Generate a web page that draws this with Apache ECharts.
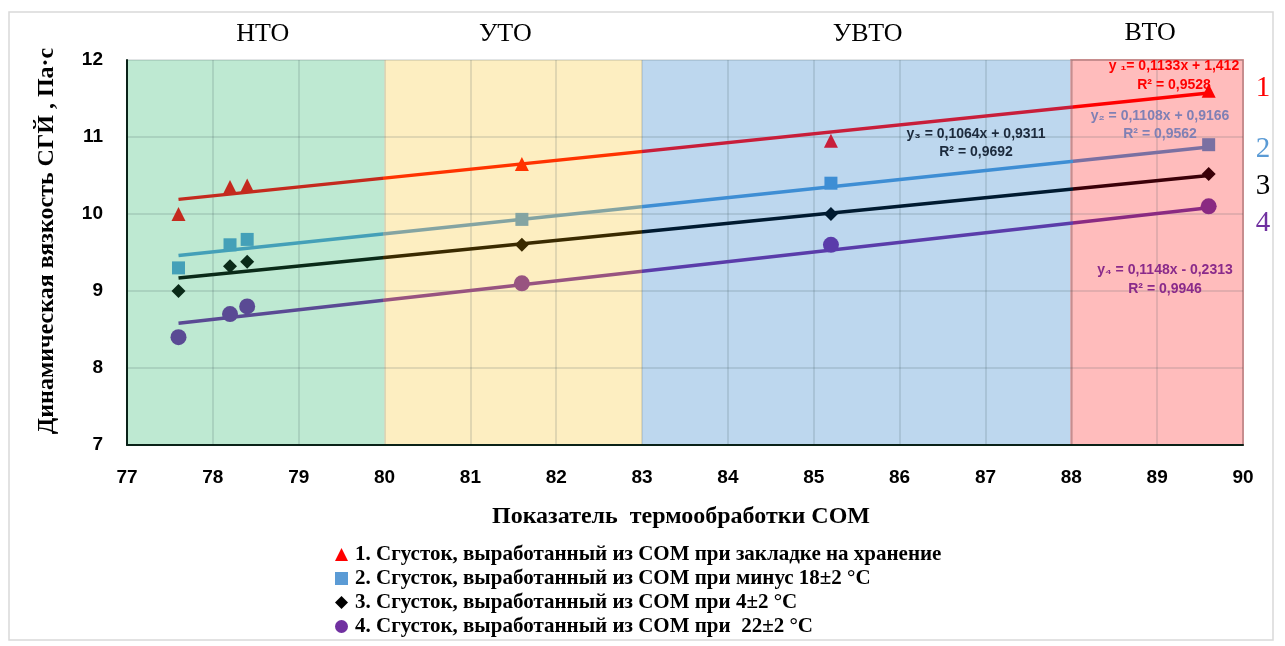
<!DOCTYPE html>
<html><head><meta charset="utf-8">
<script src="https://cdn.jsdelivr.net/npm/echarts@6/dist/echarts.min.js"></script>
<style>html,body{margin:0;padding:0;background:#fff}#c{width:1285px;height:646px}</style>
</head><body><div id="c"></div>
<script>
// ---- data ----
const bandNames = ['НТО', 'УТО', 'УВТО', 'ВТО'];
const bandEdges = [[77, 80], [80, 83], [83, 88], [88, 90]];
const xVals = [77.6, 78.2, 78.4, 81.6, 85.2, 89.6];
const s1 = [10.0, 10.35, 10.37, 10.65, 10.95, 11.6];
const s2 = [9.3, 9.6, 9.67, 9.93, 10.4, 10.9];
const s3 = [9.0, 9.32, 9.38, 9.6, 10.0, 10.52];
const s4 = [8.4, 8.7, 8.8, 9.1, 9.6, 10.1];
const trendX = [77.6, 89.6];
const t1 = [10.19, 11.57];
const t2 = [9.46, 10.87];
const t3 = [9.17, 10.5];
const t4 = [8.58, 10.08];
const seriesNames = [
  '1. Сгусток, выработанный из СОМ при закладке на хранение',
  '2. Сгусток, выработанный из СОМ при минус 18±2 °С',
  '3. Сгусток, выработанный из СОМ при 4±2 °С',
  '4. Сгусток, выработанный из СОМ при  22±2 °С'
];
const equations = [
  ['y ₁= 0,1133x + 1,412', 'R² = 0,9528'],
  ['y₂ = 0,1108x + 0,9166', 'R² = 0,9562'],
  ['y₃ = 0,1064x + 0,9311', 'R² = 0,9692'],
  ['y₄ = 0,1148x - 0,2313', 'R² = 0,9946']
];
const sideLabels = ['1', '2', '3', '4'];
const yTitle = 'Динамическая вязкость СГЙ , Па·с';
const xTitle = 'Показатель  термообработки СОМ';

// ---- styles ----
const bandFill = ['#bee9d2', '#fdeec1', '#bdd7ee', '#ffbcbc'];
const bandLabelOffset = [7, -8, 11, -7];
const colorsByBand = [
  ['#c42a1e', '#ff3300', '#c81e3a', '#ff0000'],
  ['#44a0b8', '#84a4a2', '#3e8ed4', '#7a70a2'],
  ['#0a2a18', '#3a2a00', '#001a30', '#3a0008'],
  ['#5a4a94', '#985480', '#5a3caa', '#8a2a82']
];
const legendColors = ['#ff0000', '#5b9bd5', '#000000', '#7030a0'];
const sideColors = ['#ff0000', '#5b9bd5', '#000000', '#7030a0'];
const eqColors = ['#ff0000', '#8080b4', '#1c2a3c', '#8a2a8a'];
const symbols = ['triangle', 'rect', 'diamond', 'circle'];
const symSizes = [14, 13, 14, 16];
const legendIcons = ['triangle', 'rect', 'diamond', 'circle'];

function bandIndex(x) {
  for (let i = 0; i < bandEdges.length; i++) if (x >= bandEdges[i][0] && x < bandEdges[i][1]) return i;
  return bandEdges.length - 1;
}
function gradientFor(k) {
  const x0 = trendX[0], x1 = trendX[1];
  const stops = [];
  bandEdges.forEach((e, i) => {
    const a = Math.max(0, (e[0] - x0) / (x1 - x0));
    const b = Math.min(1, (e[1] - x0) / (x1 - x0));
    if (b <= 0 || a >= 1) return;
    stops.push({offset: a, color: colorsByBand[k][i]});
    stops.push({offset: b, color: colorsByBand[k][i]});
  });
  return new echarts.graphic.LinearGradient(0, 0, 1, 0, stops);
}

const allS = [s1, s2, s3, s4];
const allT = [t1, t2, t3, t4];

const series = [];
series.push({
  type: 'scatter', data: [], z: 0, silent: true,
  markArea: {
    silent: true, z: 0,
    data: bandEdges.map((e, i) => [{
      xAxis: e[0], yAxis: 12,
      itemStyle: {color: bandFill[i], borderColor: i === 3 ? '#e09898' : 'transparent', borderWidth: i === 3 ? 2 : 0, opacity: 1},
      label: {show: true, position: 'top', distance: 13, offset: [bandLabelOffset[i], 0], formatter: bandNames[i],
        fontFamily: 'Liberation Serif', fontSize: 26, color: '#000'}
    }, {xAxis: e[1], yAxis: 7}])
  }
});
allT.forEach((t, k) => {
  series.push({
    type: 'line', name: 'trend' + (k + 1), z: 3, silent: true, symbol: 'none',
    data: trendX.map((x, i) => [x, t[i]]),
    lineStyle: {width: 3.5, color: gradientFor(k)}
  });
});
allS.forEach((s, k) => {
  series.push({
    type: 'scatter', name: seriesNames[k], z: 4,
    symbol: symbols[k], symbolSize: symSizes[k],
    data: xVals.map((x, i) => ({value: [x, s[i]], itemStyle: {color: colorsByBand[k][bandIndex(x)]}})),
    itemStyle: {color: legendColors[k], opacity: 1}
  });
});

const eqPos = [[1174, 66, 85], [1160, 116, 134], [976, 134, 152], [1165, 270, 289]];
const graphics = [{
  type: 'rect', shape: {x: 9, y: 12, width: 1264, height: 628},
  style: {fill: 'none', stroke: '#d9d9d9', lineWidth: 1.5}, z: -10, silent: true
}, {
  type: 'text', x: 47, y: 241, rotation: Math.PI / 2, z: 100,
  style: {text: yTitle, fill: '#000', font: 'bold 24px "Liberation Serif"', align: 'center', verticalAlign: 'middle'}
}];
equations.forEach((eq, k) => {
  eq.forEach((txt, j) => {
    graphics.push({
      type: 'text', x: eqPos[k][0], y: eqPos[k][j + 1], z: 100,
      style: {text: txt, fill: eqColors[k], font: 'bold 14px "Liberation Sans"', align: 'center', verticalAlign: 'middle'}
    });
  });
});
const sidePos = [[1263, 88], [1263, 149], [1263, 186], [1263, 223]];
sideLabels.forEach((t, k) => {
  graphics.push({
    type: 'text', x: sidePos[k][0], y: sidePos[k][1], z: 100,
    style: {text: t, fill: sideColors[k], font: '29px "Liberation Serif"', align: 'center', verticalAlign: 'middle'}
  });
});

const chart = echarts.init(document.getElementById('c'), null, {renderer: 'canvas'});
chart.setOption({
  animation: false,
  backgroundColor: '#fff',
  grid: {left: 127, right: 42, top: 60, bottom: 201, containLabel: false},
  xAxis: {
    type: 'value', min: 77, max: 90, interval: 1, z: 2,
    name: xTitle, nameLocation: 'middle', nameGap: 60,
    nameTextStyle: {fontFamily: 'Liberation Serif', fontWeight: 'bold', fontSize: 24, color: '#000', padding: [0, 8, 0, 0]},
    axisLine: {show: true, onZero: false, lineStyle: {color: '#0a2218', width: 2}},
    axisTick: {show: false},
    axisLabel: {fontFamily: 'Liberation Sans', fontWeight: 'bold', fontSize: 19, color: '#000', margin: 23},
    splitLine: {show: true, lineStyle: {color: 'rgba(60,80,90,0.15)', width: 2}}
  },
  yAxis: {
    type: 'value', min: 7, max: 12, interval: 1, z: 2,
    axisLine: {show: true, onZero: false, lineStyle: {color: '#0a2218', width: 2}},
    axisTick: {show: false},
    axisLabel: {fontFamily: 'Liberation Sans', fontWeight: 'bold', fontSize: 19, color: '#000', margin: 24},
    splitLine: {show: true, lineStyle: {color: 'rgba(60,80,90,0.15)', width: 2}}
  },
  legend: {
    orient: 'vertical', left: 330, top: 539, itemGap: 3, itemWidth: 13, itemHeight: 13,
    data: seriesNames.map((n, k) => ({name: n, icon: legendIcons[k], itemStyle: {color: legendColors[k]}})),
    textStyle: {fontFamily: 'Liberation Serif', fontWeight: 'bold', fontSize: 21, color: '#000', padding: [0, 0, 0, 2]}
  },
  graphic: graphics,
  series: series
});
</script></body></html>
